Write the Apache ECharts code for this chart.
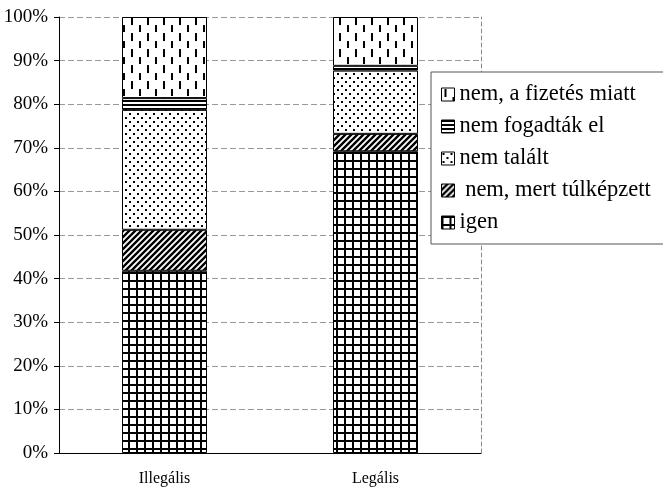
<!DOCTYPE html>
<html>
<head>
<meta charset="utf-8">
<script src="https://cdn.jsdelivr.net/npm/echarts@6/dist/echarts.min.js"></script>
<style>
html,body{margin:0;padding:0;background:#fff;}
#chart{width:663px;height:487px;}
</style>
</head>
<body>
<div id="chart"></div>
<script>
// ---- data ----
const categories = ['Illegális', 'Legális'];
const seriesNames = ['igen', ' nem, mert túlképzett', 'nem talált', 'nem fogadták el', 'nem, a fizetés miatt'];
const igen = [41.8, 69.2];
const tulkepzett = [9.4, 4.0];
const talalt = [27.5, 14.5];
const fogadtak = [2.7, 1.1];
const fizetes = [18.6, 11.2];
const yTicks = [0, 10, 20, 30, 40, 50, 60, 70, 80, 90, 100];
const legendOrder = ['nem, a fizetés miatt', 'nem fogadták el', 'nem talált', ' nem, mert túlképzett', 'igen'];

// ---- patterns ----
function makeCanvas(w, h, draw) {
  const c = document.createElement('canvas');
  c.width = w; c.height = h;
  const ctx = c.getContext('2d');
  ctx.fillStyle = '#fff';
  ctx.fillRect(0, 0, w, h);
  ctx.fillStyle = '#000';
  ctx.strokeStyle = '#000';
  draw(ctx);
  return c;
}
const patGrid = makeCanvas(8, 8, ctx => {
  ctx.fillRect(0, 0, 8, 2);
  ctx.fillRect(0, 0, 2, 8);
});
const patDiag = makeCanvas(6, 6, ctx => {
  ctx.lineWidth = 2.4;
  ctx.beginPath();
  ctx.moveTo(-1, 7); ctx.lineTo(7, -1);
  ctx.moveTo(-4, 4); ctx.lineTo(4, -4);
  ctx.moveTo(2, 10); ctx.lineTo(10, 2);
  ctx.stroke();
});
const patDots = makeCanvas(8, 8, ctx => {
  ctx.fillRect(1, 1, 2, 2);
  ctx.fillRect(5, 5, 2, 2);
});
const patHoriz = makeCanvas(4, 4, ctx => {
  ctx.fillRect(0, 0, 4, 2);
});
const patDash = makeCanvas(16, 16, ctx => {
  ctx.fillRect(3, 1, 2, 8);
  ctx.fillRect(11, 9, 2, 8);
});
const patterns = [patGrid, patDiag, patDots, patHoriz, patDash];
const values = [igen, tulkepzett, talalt, fogadtak, fizetes];

const serif = 'Liberation Serif, Times New Roman, serif';

const series = seriesNames.map((name, i) => ({
  name: name,
  type: 'bar',
  stack: 'total',
  barWidth: 85,
  data: values[i],
  itemStyle: {
    color: { image: patterns[i], repeat: 'repeat' },
    borderColor: '#000',
    borderWidth: 1
  },
  emphasis: { disabled: true }
}));

const chart = echarts.init(document.getElementById('chart'), null, { renderer: 'canvas' });
chart.setOption({
  animation: false,
  backgroundColor: '#fff',
  grid: { left: 59, right: 182, top: 17, bottom: 34 },
  xAxis: {
    type: 'category',
    data: categories,
    axisLine: { lineStyle: { color: '#000', width: 1 } },
    axisTick: { show: false },
    axisLabel: { color: '#000', fontFamily: serif, fontSize: 16, margin: 18 }
  },
  yAxis: [{
    type: 'value',
    min: 0, max: 100, interval: 10,
    axisLine: { show: true, lineStyle: { color: '#000', width: 1 } },
    axisTick: { show: true, length: 5, lineStyle: { color: '#000' } },
    axisLabel: { color: '#000', fontFamily: serif, fontSize: 19, margin: 11, formatter: v => v + '%' },
    splitLine: { show: true, lineStyle: { color: '#999', type: [6, 3], width: 1 } }
  }, {
    type: 'value',
    position: 'right',
    min: 0, max: 100, interval: 10,
    axisLine: { show: true, lineStyle: { color: '#888', type: [4, 3], width: 1 } },
    axisTick: { show: false },
    axisLabel: { show: false },
    splitLine: { show: false }
  }],
  legend: {
    orient: 'vertical',
    left: 431,
    top: 72,
    data: legendOrder,
    backgroundColor: '#fff',
    borderColor: '#555',
    borderWidth: 1,
    padding: [11, 30, 10, 10],
    itemWidth: 13,
    itemHeight: 13,
    itemGap: 9,
    icon: 'rect',
    selectedMode: false,
    itemStyle: { borderColor: '#000', borderWidth: 1 },
    textStyle: { color: '#000', fontFamily: serif, fontSize: 22.5, lineHeight: 23, padding: [0, 0, 0, 0] }
  },
  series: series
});
</script>
</body>
</html>
